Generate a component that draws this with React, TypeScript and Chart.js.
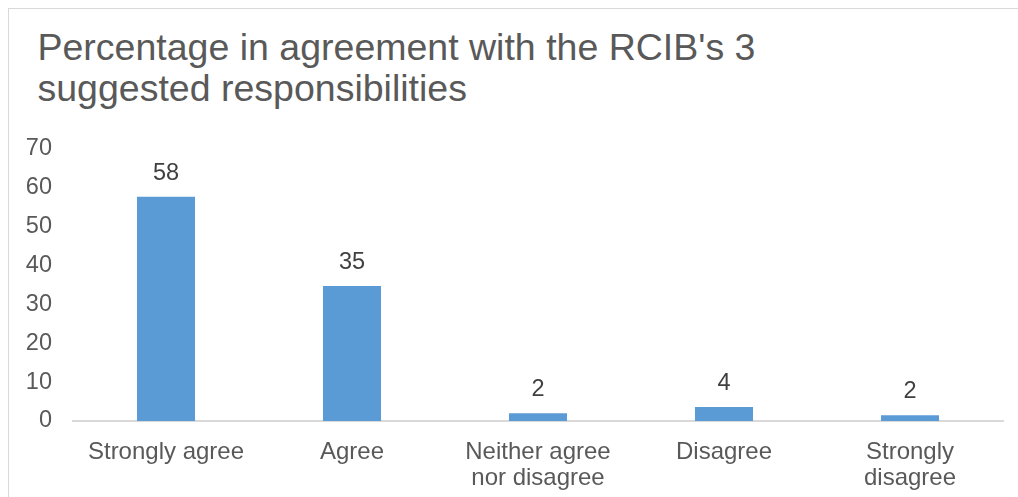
import React, { useEffect, useRef } from "react";
import { Chart, registerables } from "chart.js";

Chart.register(...registerables);

const TITLE_LINES = ["Percentage in agreement with the RCIB's 3", "suggested responsibilities"];
const CATEGORIES: (string | string[])[] = [
  "Strongly agree",
  "Agree",
  ["Neither agree", "nor disagree"],
  "Disagree",
  ["Strongly", "disagree"],
];
const VALUES = [57.6, 34.7, 2.0, 3.6, 1.5];
const Y_MIN = 0;
const Y_MAX = 70;
const Y_STEP = 10;

const FONT = "'Liberation Sans', Arial, sans-serif";

const dataLabelPlugin = {
  id: "dataLabels",
  afterDatasetsDraw(chart: any) {
    const ctx = chart.ctx;
    const meta = chart.getDatasetMeta(0);
    ctx.save();
    ctx.font = `23.5px ${FONT}`;
    ctx.fillStyle = "#404040";
    ctx.textAlign = "center";
    ctx.textBaseline = "alphabetic";
    meta.data.forEach((bar: any, i: number) => {
      const v = chart.data.datasets[0].data[i] as number;
      ctx.fillText(String(Math.round(v)), bar.x, bar.y - 17);
    });
    ctx.restore();
  },
};

export default function App() {
  const ref = useRef<HTMLCanvasElement | null>(null);

  useEffect(() => {
    if (!ref.current) return;
    const chart = new Chart(ref.current, {
      type: "bar",
      data: {
        labels: CATEGORIES,
        datasets: [
          {
            data: VALUES,
            backgroundColor: "#5B9BD5",
            borderWidth: 0,
            barPercentage: 0.312,
            categoryPercentage: 1,
          },
        ],
      },
      options: {
        animation: false,
        responsive: false,
        devicePixelRatio: 1,
        layout: { padding: { top: 139.5, left: 0, right: 15, bottom: 0 } },
        plugins: {
          legend: { display: false },
          tooltip: { enabled: false },
          title: { display: false },
        },
        scales: {
          x: {
            grid: { display: false },
            border: { display: true, color: "#d9d9d9", width: 2 },
            ticks: {
              color: "#595959",
              font: { family: FONT, size: 24, lineHeight: 1.08 },
              padding: 10,
              maxRotation: 0,
              autoSkip: false,
            },
            afterFit: (scale: any) => {
              scale.height = 76;
            },
          },
          y: {
            min: Y_MIN,
            max: Y_MAX,
            grid: { display: false },
            border: { display: false },
            ticks: {
              stepSize: Y_STEP,
              color: "#595959",
              font: { family: FONT, size: 23.5 },
              padding: 13,
            },
            afterFit: (scale: any) => {
              scale.width = 64;
            },
          },
        },
      },
      plugins: [dataLabelPlugin],
    });
    return () => chart.destroy();
  }, []);

  return (
    <div
      style={{
        position: "absolute",
        left: 8,
        top: 8,
        width: 1010,
        height: 489,
        borderTop: "1px solid #d9d9d9",
        borderLeft: "1px solid #d9d9d9",
        boxSizing: "border-box",
        background: "#fff",
      }}
    >
      <div
        style={{
          position: "absolute",
          left: 28.5,
          top: 18.2,
          fontFamily: FONT,
          fontSize: 37.5,
          lineHeight: "41px",
          color: "#595959",
          whiteSpace: "nowrap",
        }}
      >
        {TITLE_LINES.map((l, i) => (
          <div key={i}>{l}</div>
        ))}
      </div>
      <canvas
        ref={ref}
        width={1009}
        height={488}
        style={{ position: "absolute", left: 0, top: 0, width: 1009, height: 488 }}
      />
    </div>
  );
}
